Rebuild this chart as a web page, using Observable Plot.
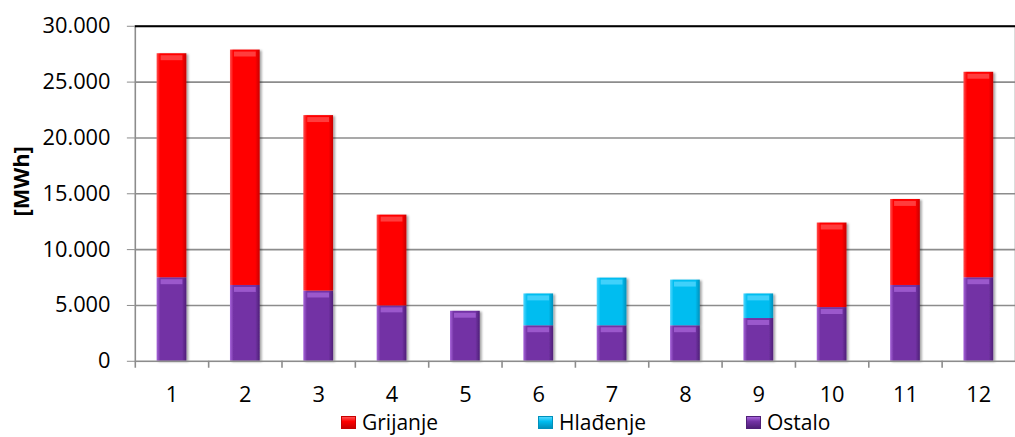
<!DOCTYPE html>
<html><head><meta charset="utf-8">
<script src="https://cdn.jsdelivr.net/npm/d3@7"></script>
<script src="https://cdn.jsdelivr.net/npm/@observablehq/plot@0.6"></script>
<style>
html,body{margin:0;padding:0;background:#fff;overflow:hidden}
#wrap{position:relative;width:1015px;height:437px;overflow:hidden;font-family:"Open Sans",sans-serif}
#chart svg{display:block}
#legend{position:absolute;top:410px;left:0;width:1015px;height:24px;font-size:21px;color:#000}
.item{position:absolute;top:0;display:flex;align-items:center;white-space:nowrap;line-height:24px}
.sw{width:15px;height:13px;margin-right:6px;box-sizing:border-box}
</style></head><body><div id="wrap"><div id="chart"></div><div id="legend"></div></div>
<script>
// ---- data ----
const months = [1, 2, 3, 4, 5, 6, 7, 8, 9, 10, 11, 12];
const ostalo    = [7480, 6790, 6290, 4960, 4480, 3180, 3180, 3180, 3830, 4810, 6790, 7480];
const grijanje  = [20060, 21080, 15710, 8130, 0, 0, 0, 0, 0, 7570, 7700, 18400];
const hladjenje = [0, 0, 0, 0, 0, 2850, 4270, 4090, 2200, 0, 0, 0];
const seriesNames = ["Grijanje", "Hlađenje", "Ostalo"];
const stackOrder = ["Ostalo", "Grijanje", "Hlađenje"];
const yTicks = [0, 5000, 10000, 15000, 20000, 25000, 30000];
const yLabel = "[MWh]";

// ---- styles ----
const baseColors = {"Grijanje": "#ff0000", "Hlađenje": "#00bdf0", "Ostalo": "#7333a5"};
const lightColors = {"Grijanje": "#ff5252", "Hlađenje": "#55d8ff", "Ostalo": "#a866da"};
const darkColors = {"Grijanje": "#c80000", "Hlađenje": "#0090bb", "Ostalo": "#4f1f78"};
const gradId = {"Grijanje": "gG", "Hlađenje": "gH", "Ostalo": "gO"};

const values = {"Grijanje": grijanje, "Hlađenje": hladjenje, "Ostalo": ostalo};
const rows = [];
for (const s of stackOrder) months.forEach((m, i) => { if (values[s][i] > 0) rows.push({month: m, series: s, value: values[s][i]}); });

// tops of each segment, for bevel caps
const caps = [];
months.forEach((m, i) => {
  let acc = 0;
  for (const s of stackOrder) { const v = values[s][i]; if (v > 0) { acc += v; caps.push({month: m, series: s, top: acc}); } }
});

const fmt = d3.formatLocale({decimal: ",", thousands: ".", grouping: [3], currency: ["", ""]}).format(",");

const chart = Plot.plot({
  width: 1024, height: 410,
  marginLeft: 136, marginRight: 0, marginTop: 26, marginBottom: 46,
  style: {fontFamily: "Open Sans", fontSize: "22px", color: "#000", background: "#fff", overflow: "hidden"},
  x: {domain: months, paddingInner: 0.6, paddingOuter: 0.3, label: null},
  y: {domain: [0, 30000], label: null},
  color: {domain: seriesNames, range: seriesNames.map(s => `url(#${gradId[s]})`)},
  marks: [
    Plot.ruleY(yTicks.slice(1, -1), {stroke: "#8c8c8c", strokeWidth: 1.6}),
    Plot.barY(rows, Plot.stackY({x: "month", y: "value", z: "series", order: stackOrder, fill: "series"})),
    ...seriesNames.map(s => Plot.tickY(caps.filter(c => c.series === s), {x: "month", y: "top", stroke: lightColors[s], strokeWidth: 5, strokeOpacity: 0.75, dy: 4, inset: 4})),
    Plot.frame({stroke: "#8c8c8c", strokeWidth: 1.6}),
    Plot.ruleY([30000], {stroke: "#000", strokeWidth: 2}),
    Plot.axisY({ticks: yTicks, tickFormat: fmt, tickSize: 8, tickPadding: 17, fontSize: 22, stroke: "#8c8c8c"}),
    Plot.ruleX(months, {x: d => d, dx: -37, y1: 0, y2: 0, insetBottom: -7, stroke: "#8c8c8c", strokeWidth: 1.6}),
    Plot.axisX({tickSize: 0, tickPadding: 25, fontSize: 22}),
    Plot.text([yLabel], {frameAnchor: "left", dx: -114, dy: 23, rotate: -90, fontWeight: "bold", fontSize: 22})
  ]
});

// gradients & shadow
const svg = d3.select(chart);
const defs = svg.insert("defs", ":first-child");
for (const s of seriesNames) {
  const g = defs.append("linearGradient").attr("id", gradId[s]).attr("x1", 0).attr("x2", 1).attr("y1", 0).attr("y2", 0);
  g.append("stop").attr("offset", "0%").attr("stop-color", lightColors[s]);
  g.append("stop").attr("offset", "12%").attr("stop-color", baseColors[s]);
  g.append("stop").attr("offset", "85%").attr("stop-color", baseColors[s]);
  g.append("stop").attr("offset", "100%").attr("stop-color", darkColors[s]);
}
const f = defs.append("filter").attr("id", "sh").attr("x", "-20%").attr("y", "-5%").attr("width", "150%").attr("height", "115%");
f.append("feDropShadow").attr("dx", 2).attr("dy", 1).attr("stdDeviation", 1.2).attr("flood-color", "#000").attr("flood-opacity", 0.35);
svg.selectAll("g[aria-label=bar]").attr("filter", "url(#sh)");
document.getElementById("chart").appendChild(chart);

// legend
const legendLeft = {"Grijanje": 341, "Hlađenje": 538, "Ostalo": 746};
const leg = d3.select("#legend");
for (const s of seriesNames) {
  const it = leg.append("div").attr("class", "item").style("left", legendLeft[s] + "px");
  it.append("div").attr("class", "sw")
    .style("background", `linear-gradient(180deg, ${lightColors[s]} 0%, ${baseColors[s]} 40%, ${darkColors[s]} 100%)`)
    .style("border", `1px solid ${darkColors[s]}`);
  it.append("span").text(s);
}
</script></body></html>
